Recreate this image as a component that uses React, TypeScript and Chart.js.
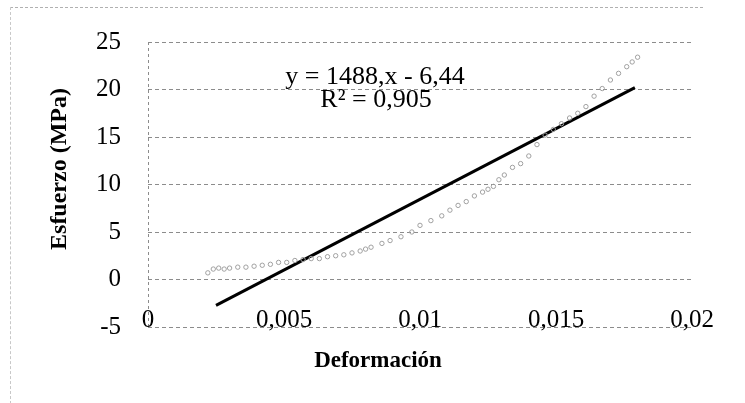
import React, { useEffect, useRef } from "react";
import { Chart, registerables } from "chart.js";

Chart.register(...registerables);

// Measured data (strain, stress in MPa)
const strainValues = [
  0.0022, 0.0024, 0.0026, 0.0028, 0.003, 0.0033, 0.0036, 0.0039, 0.0042, 0.0045,
  0.0048, 0.0051, 0.0054, 0.0057, 0.006, 0.0063, 0.0066, 0.0069, 0.0072, 0.0075,
  0.0078, 0.008, 0.0082, 0.0086, 0.0089, 0.0093, 0.0097, 0.01, 0.0104, 0.0108,
  0.0111, 0.0114, 0.0117, 0.012, 0.0123, 0.0125, 0.0127, 0.0129, 0.0131, 0.0134,
  0.0137, 0.014, 0.0143, 0.0146, 0.0149, 0.0152, 0.0155, 0.0158, 0.0161, 0.0164,
  0.0167, 0.017, 0.0173, 0.0176, 0.0178, 0.018,
];
const stressValues = [
  0.7, 1.1, 1.2, 1.1, 1.2, 1.3, 1.3, 1.4, 1.5, 1.6,
  1.8, 1.8, 2.0, 2.1, 2.2, 2.2, 2.4, 2.5, 2.6, 2.8,
  3.0, 3.2, 3.4, 3.8, 4.1, 4.5, 5.0, 5.7, 6.2, 6.7,
  7.3, 7.8, 8.2, 8.8, 9.2, 9.5, 9.8, 10.5, 11.0, 11.8,
  12.2, 13.0, 14.2, 15.2, 15.8, 16.4, 17.0, 17.5, 18.2, 19.3,
  20.1, 21.0, 21.7, 22.4, 22.9, 23.4,
];

// Linear trendline end points (y = 1488x - 6.44)
const trendStrain = [0.0025, 0.0179];
const trendStress = [-2.72, 20.2];

const xTickLabels = ["0", "0,005", "0,01", "0,015", "0,02"];
const yTickLabels = ["-5", "0", "5", "10", "15", "20", "25"];

const equationText = "y = 1488,x - 6,44";
const r2Text = "R\u00B2 = 0,905";
const xTitle = "Deformaci\u00F3n";
const yTitle = "Esfuerzo (MPa)";

const SERIF = "'Liberation Serif', 'Times New Roman', 'DejaVu Serif', serif";

const textPlugin = {
  id: "customText",
  afterDraw(chart: any) {
    const ctx = chart.ctx;
    ctx.save();
    ctx.fillStyle = "#000";
    ctx.textAlign = "center";
    ctx.textBaseline = "middle";
    ctx.font = `26px ${SERIF}`;
    ctx.fillText(equationText, 375, 77);
    ctx.fillText(r2Text, 376, 100);
    ctx.font = `bold 23px ${SERIF}`;
    ctx.fillText(xTitle, 378, 361);
    ctx.font = `bold 24px ${SERIF}`;
    ctx.translate(60, 169);
    ctx.rotate(-Math.PI / 2);
    ctx.fillText(yTitle, 0, 0);
    ctx.restore();
  },
};

export default function App() {
  const canvasRef = useRef<HTMLCanvasElement | null>(null);

  useEffect(() => {
    document.body.style.margin = "0";
    const canvas = canvasRef.current;
    if (!canvas) return;
    const points = strainValues.map((x, i) => ({ x, y: stressValues[i] }));
    const trend = trendStrain.map((x, i) => ({ x, y: trendStress[i] }));
    const chart = new Chart(canvas, {
      type: "scatter",
      data: {
        datasets: [
          {
            label: "Datos",
            data: points,
            pointRadius: 2.2,
            pointBorderWidth: 1,
            borderColor: "#a0a0a0",
            backgroundColor: "rgba(0,0,0,0)",
            showLine: false,
          },
          {
            label: "Lineal",
            data: trend,
            showLine: true,
            pointRadius: 0,
            borderColor: "#000",
            borderWidth: 3,
          },
        ],
      },
      options: {
        responsive: false,
        animation: false,
        layout: { padding: { left: 0, top: 35, right: 53, bottom: 0 } },
        plugins: {
          legend: { display: false },
          tooltip: { enabled: false },
        },
        scales: {
          x: {
            type: "linear",
            min: 0,
            max: 0.02,
            afterFit: (s: any) => {
              s.height = 76;
            },
            ticks: {
              stepSize: 0.005,
              autoSkip: false,
              maxRotation: 0,
              mirror: true,
              padding: -8,
              color: "#000",
              font: { family: SERIF, size: 25 },
              callback: (_v: any, i: number) => xTickLabels[i],
            },
            grid: {
              drawTicks: false,
              lineWidth: 1,
              color: (c: any) => (c.index === 0 ? "#8c8c8c" : "rgba(0,0,0,0)"),
            },
            border: { display: false, dash: [3, 3] },
          },
          y: {
            type: "linear",
            min: -5,
            max: 25,
            afterFit: (s: any) => {
              s.width = 148;
            },
            ticks: {
              stepSize: 5,
              padding: 27,
              color: "#000",
              font: { family: SERIF, size: 25 },
              callback: (_v: any, i: number) => yTickLabels[i],
            },
            grid: {
              drawTicks: false,
              lineWidth: 1,
              color: "#8c8c8c",
            },
            border: { display: false, dash: [4, 3] },
          },
        },
      },
      plugins: [textPlugin],
    } as any);
    return () => chart.destroy();
  }, []);

  return (
    <div style={{ position: "relative", width: 745, height: 403, background: "#fff" }}>
      <canvas ref={canvasRef} width={745} height={403} style={{ display: "block" }} />
      <div
        style={{
          position: "absolute",
          left: 10,
          top: 7,
          width: 692,
          height: 396,
          borderTop: "1px dashed #b0b0b0",
          borderLeft: "1px dashed #c8c8c8",
          pointerEvents: "none",
        }}
      />
    </div>
  );
}
